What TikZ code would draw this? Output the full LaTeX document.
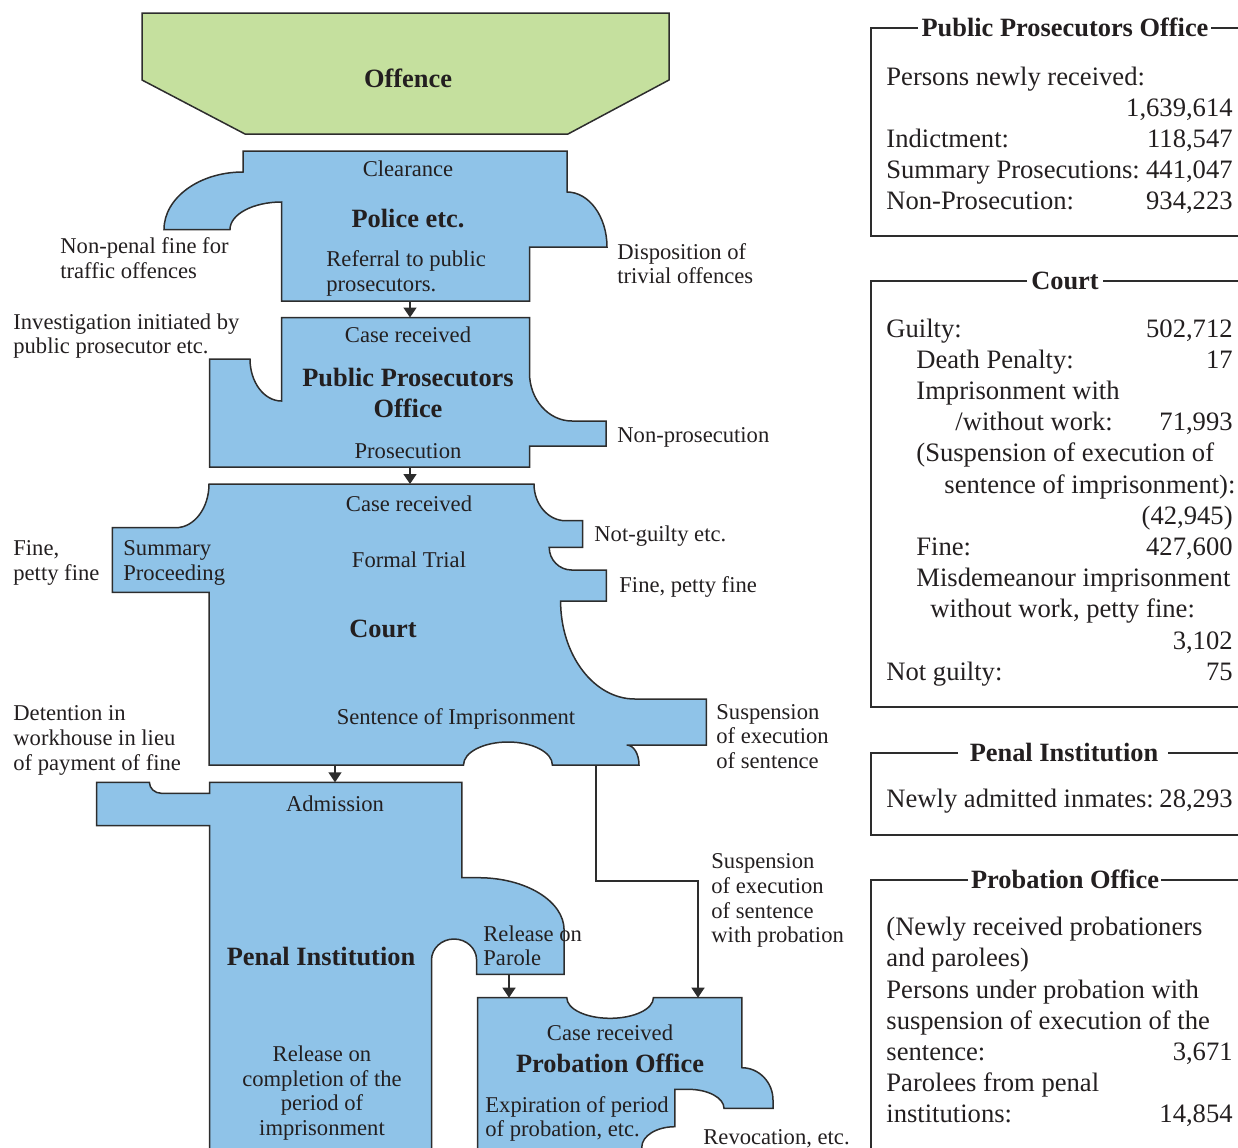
\documentclass[tikz,border=0pt]{standalone}
\usepackage{fontspec}
\setmainfont{Liberation Serif}
\usetikzlibrary{arrows.meta}
\definecolor{boxblue}{RGB}{143,195,232}
\definecolor{offgreen}{RGB}{197,224,158}
\definecolor{edgegray}{RGB}{45,45,45}
\definecolor{inkgray}{RGB}{35,31,32}
\begin{document}
\begin{tikzpicture}[x=0.5pt,y=-0.5pt,
 every node/.style={text=inkgray},
 shapeline/.style={draw=edgegray,line width=0.75pt,line join=miter},
 blueshape/.style={shapeline,fill=boxblue},
 greenshape/.style={shapeline,fill=offgreen},
 flow/.style={draw=edgegray,line width=0.75pt,-{Triangle[length=5pt,width=6.5pt]}},
 sm/.style={inner sep=0,font=\fontsize{11.3}{12.5}\selectfont},
 lw/.style={sm,anchor=base west},
 cw/.style={sm,anchor=base},
 bt/.style={inner sep=0,anchor=base,font=\fontsize{13.2}{15.5}\selectfont\bfseries},
 pl/.style={inner sep=0,anchor=base west,font=\fontsize{13.3}{15.5}\selectfont},
 pr/.style={inner sep=0,anchor=base east,font=\fontsize{13.3}{15.5}\selectfont},
 panel/.style={draw=edgegray,line width=0.75pt},
]
\useasboundingbox (0,0) rectangle (1238,1147);

% ---------- flow shapes ----------
\path[greenshape] (142,13) -- (669,13) -- (669,80) -- (568,134) -- (245,134) -- (142,80) -- cycle;

\path[blueshape] (243,151) -- (567,151) -- (567,192) .. controls (589,192) and (607,216.6) .. (607,247)
  -- (529.5,247) -- (529.5,301) -- (281.5,301) -- (281.5,202)
  .. controls (253.1,202) and (230,214.3) .. (230,229.5) -- (164,229.5)
  .. controls (164,197.8) and (199.4,172) .. (243,172) -- cycle;

\path[blueshape] (281.5,317.5) -- (529.5,317.5) -- (529.5,373) .. controls (529.5,399.5) and (548.5,421) .. (572,421)
  -- (606,421) -- (606,446) -- (529.5,446) -- (529.5,467) -- (209.5,467) -- (209.5,359) -- (250,359)
  .. controls (250,382.2) and (264.1,401) .. (281.5,401) -- cycle;

\path[blueshape] (209,484) -- (534,484) .. controls (534,504.3) and (548.2,520.7) .. (565.5,520.7)
  -- (582.7,520.7) -- (582.7,547.3) -- (549.2,547.3) .. controls (549.2,559.8) and (559.2,570) .. (571.6,570)
  -- (606.3,570) -- (606.3,601) -- (560.6,601) .. controls (560.6,655) and (593.9,699) .. (634.9,699)
  -- (706.3,699) -- (706.3,745) -- (626.7,745) .. controls (633.5,745) and (639,753.6) .. (639,765)
  -- (552.4,765) .. controls (552.4,752.3) and (532.5,742) .. (508,742)
  .. controls (483.4,742) and (463.5,752.3) .. (463.5,765) -- (209,765) -- (209,592.3) -- (112.4,592.3)
  -- (112.4,527.7) -- (175.7,527.7) .. controls (194.2,527.7) and (209,508.1) .. (209,484) -- cycle;

\path[blueshape] (96.7,782.3) -- (149.4,782.3) .. controls (149.4,788.4) and (154.8,793.3) .. (161.4,793.3)
  -- (209.6,793.3) -- (209.6,782.3) -- (461.9,782.3) -- (461.9,877.7)
  -- (478.4,877.7) .. controls (525.7,877.7) and (564.1,901.1) .. (564.1,930) -- (564.1,974.3)
  -- (476.6,974.3) -- (476.6,960) .. controls (476.6,948.4) and (466.4,939) .. (454,939)
  .. controls (441.6,939) and (431.5,948.4) .. (431.5,960) -- (431.5,1160) -- (209.6,1160)
  -- (209.6,825.7) -- (96.7,825.7) -- cycle;

\path[blueshape] (477.5,997.7) -- (566.8,997.7) .. controls (566.8,1009.1) and (586.2,1018.3) .. (610.1,1018.3)
  .. controls (634,1018.3) and (653.4,1009.1) .. (653.4,997.7) -- (741.8,997.7) -- (741.8,1067.7)
  .. controls (759,1067.7) and (773,1082.3) .. (773,1100) -- (773,1108.3) -- (724,1108.3)
  .. controls (724,1097.8) and (708,1089.3) .. (688.2,1089.3) -- (674.8,1089.3) -- (674.8,1126.7)
  .. controls (656.6,1126.7) and (641.8,1136) .. (641.8,1147) -- (641.8,1160) -- (477.5,1160) -- cycle;

% ---------- connectors ----------
\coordinate (polout) at (410,301);   \coordinate (ppoin) at (410,317.5);
\coordinate (ppoout) at (410,467);   \coordinate (courtin) at (410,484);
\coordinate (courtout) at (335,765); \coordinate (penalin) at (335,782.3);
\coordinate (paroleout) at (509,974.3); \coordinate (probin) at (509,997.7);
\coordinate (suspout) at (596,765); \coordinate (suspb1) at (596,881);
\coordinate (suspb2) at (698,881); \coordinate (probin2) at (698,997.7);
\draw[flow] (polout) -- (ppoin);
\draw[flow] (ppoout) -- (courtin);
\draw[flow] (courtout) -- (penalin);
\draw[flow] (paroleout) -- (probin);
\draw[flow] (suspout) -- (suspb1) -- (suspb2) -- (probin2);

% ---------- texts in shapes ----------
\node[bt] (offence) at (408,87) {Offence};
\node[cw] (clear) at (408,176) {Clearance};
\node[bt] (police) at (408,227) {Police etc.};
\node[lw] (ref1) at (326,266) {Referral to public};
\node[lw] (ref2) at (326,291) {prosecutors.};
\node[cw] (ppocase) at (408,342) {Case received};
\node[bt] (ppo1) at (408,386) {Public Prosecutors};
\node[bt] (ppo2) at (408,417) {Office};
\node[cw] (prosec) at (408,458) {Prosecution};
\node[cw] (ccase) at (409,511) {Case received};
\node[cw] (formal) at (409,567) {Formal Trial};
\node[bt] (court) at (383,637) {Court};
\node[cw] (sentence) at (456,724) {Sentence of Imprisonment};
\node[lw] (summ1) at (123,555) {Summary};
\node[lw] (summ2) at (123,580) {Proceeding};
\node[cw] (admission) at (335,811) {Admission};
\node[bt] (penal) at (321,965) {Penal Institution};
\node[cw] (rel1) at (322,1061) {Release on};
\node[cw] (rel2) at (322,1086) {completion of the};
\node[cw] (rel3) at (322,1110) {period of};
\node[cw] (rel4) at (322,1135) {imprisonment};
\node[lw] (par1) at (483,941) {Release on};
\node[lw] (par2) at (483,965) {Parole};
\node[cw] (pcase) at (610,1040) {Case received};
\node[bt] (prob) at (610,1072) {Probation Office};
\node[lw] (exp1) at (485,1112) {Expiration of period};
\node[lw] (exp2) at (485,1136) {of probation, etc.};

% ---------- outside labels ----------
\node[lw] (np1) at (60,253) {Non-penal fine for};
\node[lw] (np2) at (60,278) {traffic offences};
\node[lw] (dis1) at (617,259) {Disposition of};
\node[lw] (dis2) at (617,283) {trivial offences};
\node[lw] (inv1) at (13,329) {Investigation initiated by};
\node[lw] (inv2) at (13,353) {public prosecutor etc.};
\node[lw] (nonpros) at (617,442) {Non-prosecution};
\node[lw] (fine1) at (13,555) {Fine,};
\node[lw] (fine2) at (13,580) {petty fine};
\node[lw] (notg) at (594,541) {Not-guilty etc.};
\node[lw] (finep) at (619,592) {Fine, petty fine};
\node[lw] (sus1) at (716,719) {Suspension};
\node[lw] (sus2) at (716,743) {of execution};
\node[lw] (sus3) at (716,768) {of sentence};
\node[lw] (det1) at (13,720) {Detention in};
\node[lw] (det2) at (13,745) {workhouse in lieu};
\node[lw] (det3) at (13,770) {of payment of fine};
\node[lw] (spr1) at (711,868) {Suspension};
\node[lw] (spr2) at (711,893) {of execution};
\node[lw] (spr3) at (711,918) {of sentence};
\node[lw] (spr4) at (711,942) {with probation};
\node[lw] (revoc) at (703,1144) {Revocation, etc.};

% ---------- right panels ----------
\draw[panel] (918,28) -- (871,28) -- (871,236) -- (1238,236);
\draw[panel] (1211,28) -- (1238,28);
\node[bt] (t1) at (1065,36) {Public Prosecutors Office};
\node[pl] (a1) at (886,85) {Persons newly received:};
\node[pr] (a1n) at (1233,116) {1,639,614};
\node[pl] (a2) at (886,147) {Indictment:};
\node[pr] (a2n) at (1233,147) {118,547};
\node[pl] (a3) at (886,178) {Summary Prosecutions:};
\node[pr] (a3n) at (1233,178) {441,047};
\node[pl] (a4) at (886,209) {Non-Prosecution:};
\node[pr] (a4n) at (1233,209) {934,223};

\draw[panel] (1027,281) -- (871,281) -- (871,707) -- (1238,707);
\draw[panel] (1103,281) -- (1238,281);
\node[bt] (t2) at (1065,289) {Court};
\node[pl] (b1) at (886,337) {Guilty:};
\node[pr] (b1n) at (1233,337) {502,712};
\node[pl] (b2) at (916,368.2) {Death Penalty:};
\node[pr] (b2n) at (1233,368.2) {17};
\node[pl] (b3) at (916,399.4) {Imprisonment with};
\node[pl] (b4) at (955,430.6) {/without work:};
\node[pr] (b4n) at (1233,430.6) {71,993};
\node[pl] (b5) at (916,461.8) {(Suspension of execution of};
\node[pl] (b6) at (944,493) {sentence of imprisonment):};
\node[pr] (b7n) at (1233,524.2) {(42,945)};
\node[pl] (b8) at (916,555.4) {Fine:};
\node[pr] (b8n) at (1233,555.4) {427,600};
\node[pl] (b9) at (916,586.6) {Misdemeanour imprisonment};
\node[pl] (b10) at (930,617.8) {without work, petty fine:};
\node[pr] (b11n) at (1233,649) {3,102};
\node[pl] (b12) at (886,680.2) {Not guilty:};
\node[pr] (b12n) at (1233,680.2) {75};

\draw[panel] (958,753) -- (871,753) -- (871,835) -- (1238,835);
\draw[panel] (1168,753) -- (1238,753);
\node[bt] (t3) at (1064,761) {Penal Institution};
\node[pl] (c1) at (886,807) {Newly admitted inmates:};
\node[pr] (c1n) at (1233,807) {28,293};

\draw[panel] (968,880) -- (871,880) -- (871,1160);
\draw[panel] (1161,880) -- (1238,880);
\node[bt] (t4) at (1065,888) {Probation Office};
\node[pl] (d1) at (886,935) {(Newly received probationers};
\node[pl] (d2) at (886,966) {and parolees)};
\node[pl] (d3) at (886,998) {Persons under probation with};
\node[pl] (d4) at (886,1029) {suspension of execution of the};
\node[pl] (d5) at (886,1060) {sentence:};
\node[pr] (d5n) at (1233,1060) {3,671};
\node[pl] (d6) at (886,1091) {Parolees from penal};
\node[pl] (d7) at (886,1122) {institutions:};
\node[pr] (d7n) at (1233,1122) {14,854};
\end{tikzpicture}
\end{document}
